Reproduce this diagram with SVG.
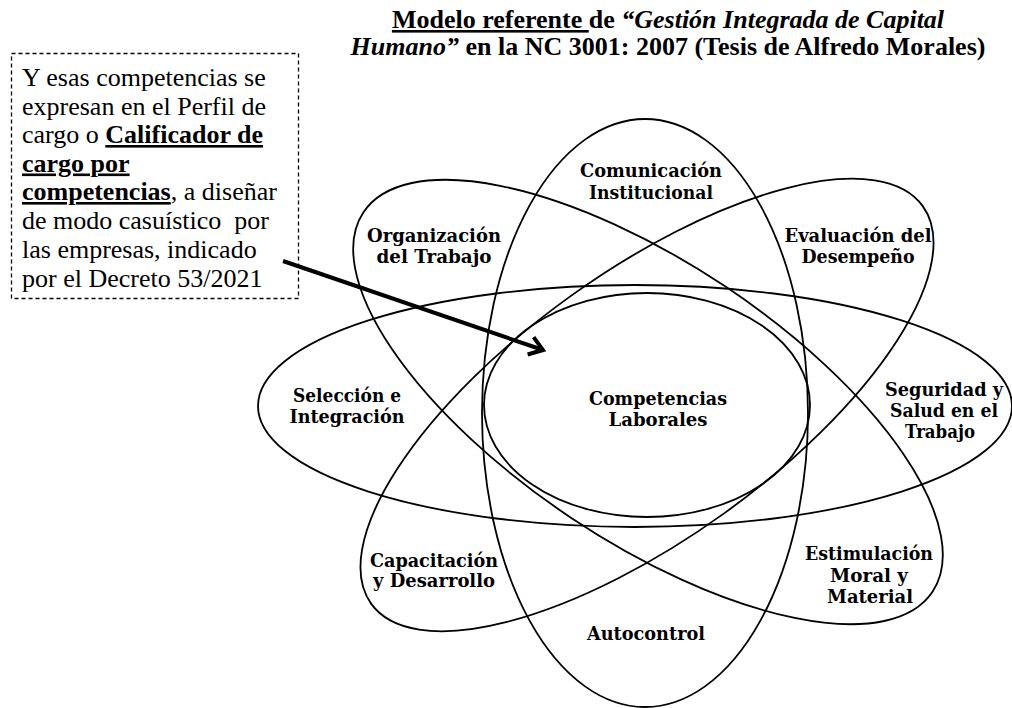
<svg xmlns="http://www.w3.org/2000/svg" width="1012" height="708" viewBox="0 0 1012 708">
  <defs>
    <style>
      .orbit { fill: none; stroke: #000; stroke-width: 1.8; }
      .lbl { font-family: "DejaVu Serif", "Liberation Serif", serif; font-weight: bold; font-size: 19px; fill: #000; text-anchor: middle; }
      .title { font-family: "Liberation Serif", "Times New Roman", serif; font-weight: bold; font-size: 26px; fill: #000; text-anchor: middle; }
      .note { font-family: "Liberation Serif", "Times New Roman", serif; font-size: 26px; fill: #000; }
      .b { font-weight: bold; }
      .u { text-decoration: underline; }
      .it { font-style: italic; }
      .callout { fill: #fff; stroke: #000; stroke-width: 1.3; stroke-dasharray: 4 3; }
      .arrow { fill: none; stroke: #000; stroke-width: 4; }
    </style>
    <marker id="chevron" markerUnits="userSpaceOnUse" orient="auto" refX="0" refY="0" markerWidth="30" markerHeight="30" viewBox="-20 -15 30 30" overflow="visible">
      <path d="M-13.1,-9.2 L0,0 L-13.1,9.2" fill="none" stroke="#000" stroke-width="4" stroke-linejoin="miter"/>
    </marker>
  </defs>

  <rect width="1012" height="708" fill="#fff"/>

  <!-- Title -->
  <g id="title">
    <text class="title" x="668" y="28"><tspan class="u">Modelo referente </tspan>de <tspan class="it">“Gestión Integrada de Capital</tspan></text>
    <text class="title" x="668" y="55"><tspan class="it">Humano”</tspan> en la NC 3001: 2007 (Tesis de Alfredo Morales)</text>
  </g>

  <!-- Orbits -->
  <g id="seleccion-seguridad">
    <ellipse class="orbit" cx="635" cy="406" rx="377" ry="121"/>
    <text class="lbl" x="347" y="402" textLength="108" lengthAdjust="spacingAndGlyphs">Selección e</text>
    <text class="lbl" x="347" y="423" textLength="115" lengthAdjust="spacingAndGlyphs">Integración</text>
    <text class="lbl" x="944" y="396" textLength="118" lengthAdjust="spacingAndGlyphs">Seguridad y</text>
    <text class="lbl" x="944" y="417" textLength="108" lengthAdjust="spacingAndGlyphs">Salud en el</text>
    <text class="lbl" x="940" y="438" textLength="70" lengthAdjust="spacingAndGlyphs">Trabajo</text>
  </g>

  <g id="comunicacion-autocontrol">
    <ellipse class="orbit" cx="645" cy="413" rx="163" ry="294"/>
    <text class="lbl" x="651" y="177" textLength="142" lengthAdjust="spacingAndGlyphs">Comunicación</text>
    <text class="lbl" x="651" y="199" textLength="124" lengthAdjust="spacingAndGlyphs">Institucional</text>
    <text class="lbl" x="646" y="640" textLength="118" lengthAdjust="spacingAndGlyphs">Autocontrol</text>
  </g>

  <g id="organizacion-estimulacion">
    <ellipse class="orbit" cx="648" cy="402" rx="342" ry="139" transform="rotate(33.7 648 402)"/>
    <text class="lbl" x="434" y="242" textLength="134" lengthAdjust="spacingAndGlyphs">Organización</text>
    <text class="lbl" x="434" y="263" textLength="115" lengthAdjust="spacingAndGlyphs">del Trabajo</text>
    <text class="lbl" x="869" y="560" textLength="128" lengthAdjust="spacingAndGlyphs">Estimulación</text>
    <text class="lbl" x="869" y="582" textLength="78" lengthAdjust="spacingAndGlyphs">Moral y</text>
    <text class="lbl" x="870" y="603" textLength="86" lengthAdjust="spacingAndGlyphs">Material</text>
  </g>

  <g id="evaluacion-capacitacion">
    <ellipse class="orbit" cx="647" cy="405" rx="340" ry="133" transform="rotate(-35.8 647 405)"/>
    <text class="lbl" x="858" y="242" textLength="147" lengthAdjust="spacingAndGlyphs">Evaluación del</text>
    <text class="lbl" x="858" y="263" textLength="113" lengthAdjust="spacingAndGlyphs">Desempeño</text>
    <text class="lbl" x="434" y="567" textLength="128" lengthAdjust="spacingAndGlyphs">Capacitación</text>
    <text class="lbl" x="434" y="587" textLength="122" lengthAdjust="spacingAndGlyphs">y Desarrollo</text>
  </g>

  <g id="competencias">
    <ellipse class="orbit" cx="647" cy="405" rx="163" ry="112"/>
    <text class="lbl" x="658" y="405" textLength="138" lengthAdjust="spacingAndGlyphs">Competencias</text>
    <text class="lbl" x="658" y="426" textLength="99" lengthAdjust="spacingAndGlyphs">Laborales</text>
  </g>

  <!-- Callout note -->
  <g id="nota">
    <rect class="callout" x="11.5" y="53.5" width="287" height="245"/>
    <text class="note" x="22" y="86">Y esas competencias se</text>
    <text class="note" x="22" y="114.5">expresan en el Perfil de</text>
    <text class="note" x="22" y="143">cargo o <tspan class="b u">Calificador de</tspan></text>
    <text class="note" x="22" y="171.5"><tspan class="b u">cargo por</tspan></text>
    <text class="note" x="22" y="200"><tspan class="b u">competencias</tspan>, a diseñar</text>
    <text class="note" x="22" y="229">de modo casuístico&#160; por</text>
    <text class="note" x="22" y="258">las empresas, indicado</text>
    <text class="note" x="22" y="287">por el Decreto 53/2021</text>
  </g>

  <!-- Connectors -->
  <g id="connectors">
    <path class="arrow" d="M283,261 L543,350" marker-end="url(#chevron)"/>
  </g>
</svg>
